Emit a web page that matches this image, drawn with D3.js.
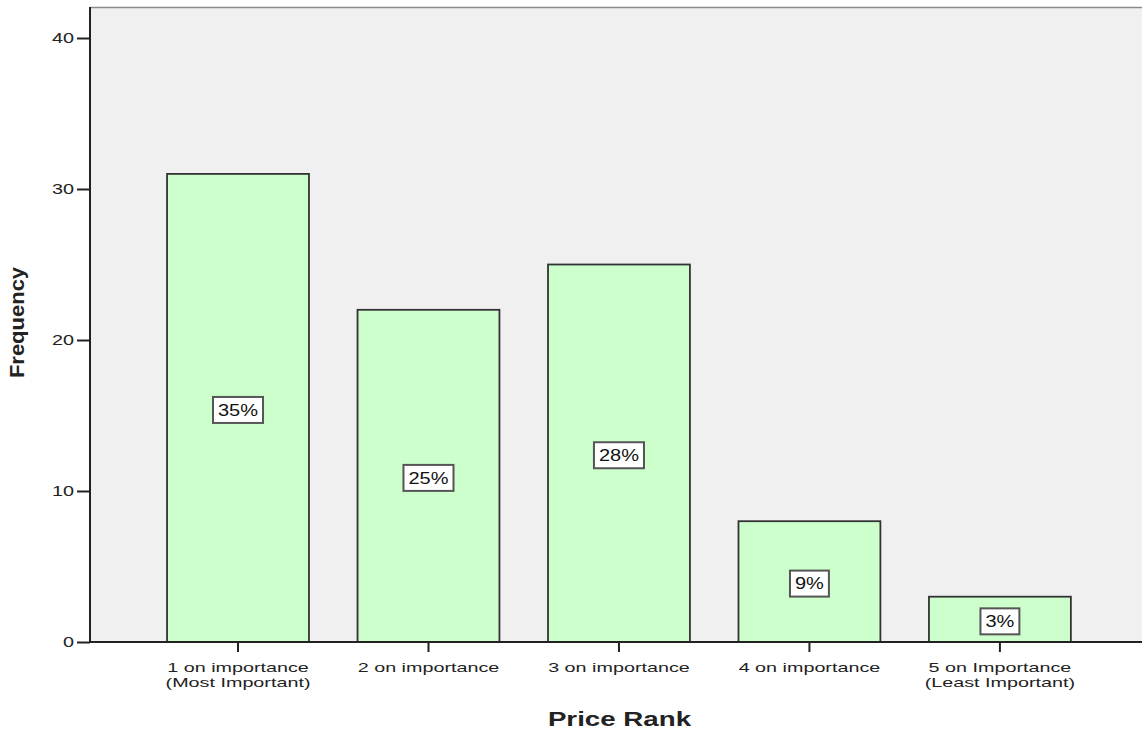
<!DOCTYPE html>
<html><head><meta charset="utf-8">
<script src="https://cdn.jsdelivr.net/npm/d3@7"></script>
<style>body{margin:0;background:#fff}svg{display:block;font-family:"Liberation Sans",Arial,sans-serif}</style>
</head><body>
<svg id="c" width="1142" height="732"></svg>
<script>
const categories = [["1 on importance","(Most Important)"],["2 on importance"],["3 on importance"],["4 on importance"],["5 on Importance","(Least Important)"]];
const frequencies = [31, 22, 25, 8, 3];
const percentLabels = ["35%","25%","28%","9%","3%"];
const yTicks = [0, 10, 20, 30, 40];

const FONT = "Liberation Sans, Arial, sans-serif";
const SX = 1.32; // horizontal stretch of the reference's lettering
const svg = d3.select("#c");
const L = 90, R = 1142, T = 7, B = 642;
const x = d3.scaleBand().domain(d3.range(categories.length)).range([L, R]).paddingInner(0.255).paddingOuter(0.389).align(0.52);
const y = d3.scaleLinear().domain([0, 40]).range([B, 38]);

svg.append("rect").attr("x", L).attr("y", T).attr("width", R - L).attr("height", B - T).attr("fill", "#f0f0f0");
svg.append("line").attr("x1", L).attr("x2", R).attr("y1", T + 0.5).attr("y2", T + 0.5).attr("stroke", "#8a8a8a").attr("stroke-width", 1.5);

svg.selectAll("rect.bar").data(frequencies).join("rect").attr("class", "bar")
  .attr("x", (d, i) => x(i)).attr("y", d => y(d)).attr("width", x.bandwidth()).attr("height", d => B - y(d))
  .attr("fill", "#ccffcc").attr("stroke", "#333").attr("stroke-width", 1.8);

// y axis
const ya = svg.append("g").attr("transform", `translate(${L},0)`)
  .call(d3.axisLeft(y).tickValues(yTicks).tickSize(13).tickPadding(3));
ya.select(".domain").attr("stroke", "#222").attr("stroke-width", 2).attr("d", `M0,${T}V${B}`);
ya.selectAll(".tick line").attr("stroke", "#222").attr("stroke-width", 2);
ya.selectAll(".tick text").attr("font-size", 15).attr("fill", "#222").attr("font-family", FONT)
  .attr("x", -16 / SX).attr("transform", `scale(${SX},1)`);

// x axis
const XS = 1.52;
const xa = svg.append("g").attr("transform", `translate(0,${B})`)
  .call(d3.axisBottom(x).tickSize(10).tickFormat(""));
xa.select(".domain").attr("stroke", "#222").attr("stroke-width", 2).attr("d", `M${L},0H${R}`);
xa.selectAll(".tick line").attr("stroke", "#222").attr("stroke-width", 2);
xa.selectAll(".tick").each(function(d) {
  const g = d3.select(this);
  categories[d].forEach((s, k) => g.append("text").attr("text-anchor", "middle").attr("font-size", 13).attr("fill", "#222")
    .attr("font-family", FONT).attr("transform", `scale(${XS},1)`).attr("x", 0).attr("y", 30.5 + k * 15).text(s));
});

// percentage labels
const lab = svg.selectAll("g.lab").data(frequencies).join("g").attr("class", "lab")
  .attr("transform", (d, i) => `translate(${x(i) + x.bandwidth() / 2},${y(d / 2) + 2})`);
lab.each(function(d, i) {
  const g = d3.select(this);
  const tx = g.append("text").attr("text-anchor", "middle").attr("dy", "0.36em").attr("font-size", 16).attr("fill", "#111")
    .attr("font-family", FONT).attr("transform", "scale(1.25,1)").text(percentLabels[i]);
  const w = tx.node().getComputedTextLength() * 1.25 + 10;
  g.insert("rect", "text").attr("x", -w / 2).attr("y", -13).attr("width", w).attr("height", 26)
    .attr("fill", "#fff").attr("stroke", "#555").attr("stroke-width", 2);
});

// axis titles
svg.append("text").attr("transform", "translate(619.5,726) scale(1.32,1)").attr("text-anchor", "middle")
  .attr("font-size", 21).attr("font-weight", "bold").attr("fill", "#222").attr("font-family", FONT).text("Price Rank");
svg.append("text").attr("transform", "translate(23.5,322.5) rotate(-90) scale(1.1,1)").attr("text-anchor", "middle")
  .attr("font-size", 20).attr("font-weight", "bold").attr("fill", "#222").attr("font-family", FONT).text("Frequency");
</script>
</body></html>
